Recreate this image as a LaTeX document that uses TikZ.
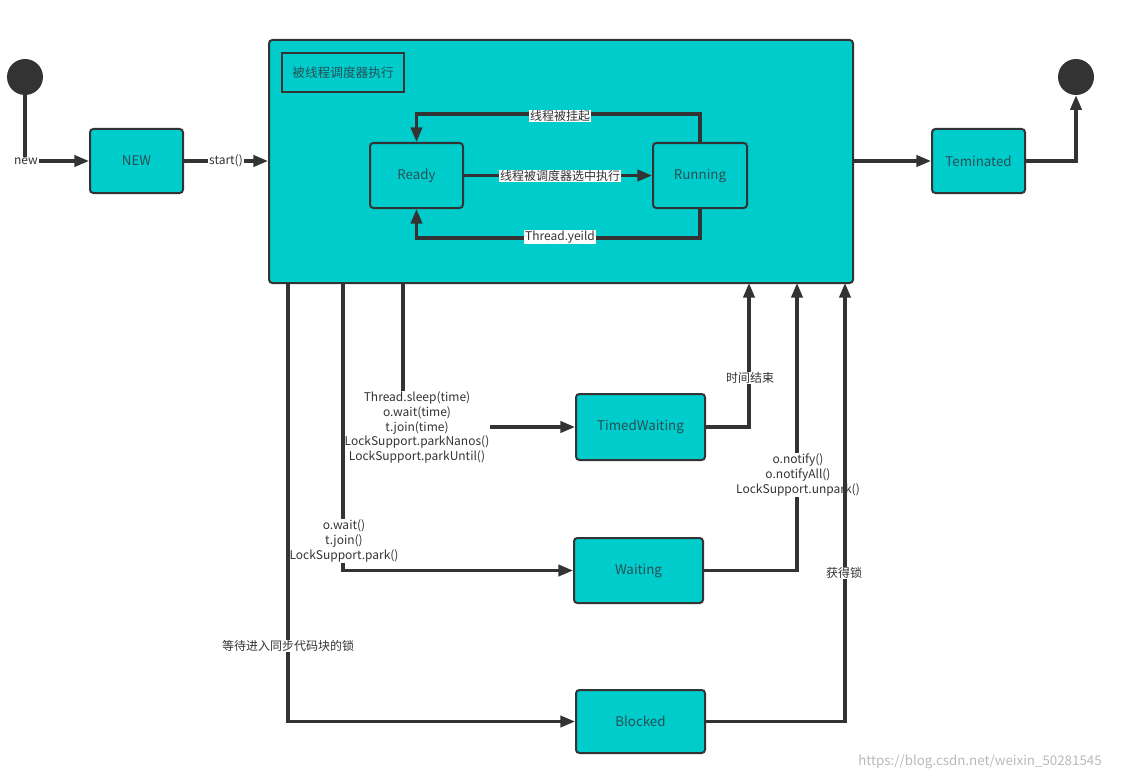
\documentclass[tikz,border=0pt]{standalone}
\usepackage{fontspec}
\setmainfont{Noto Sans CJK SC}
\usetikzlibrary{arrows.meta}
\definecolor{boxfill}{RGB}{0,204,204}
\definecolor{ink}{RGB}{51,51,51}
\definecolor{boxtext}{RGB}{40,80,85}
\begin{document}
\begin{tikzpicture}[x=0.75pt,y=-0.75pt,
  state/.style={draw=ink, line width=1.5pt, fill=boxfill, rounded corners=2.5pt, inner sep=0pt, text=boxtext, font=\fontsize{10}{12}\selectfont},
  arr/.style={draw=ink, line width=2.3pt, -{Triangle[length=11pt,width=8.5pt]}},
  lbl/.style={fill=white, text=ink, inner sep=0.6pt, font=\fontsize{9}{11}\selectfont, align=center},
  dot/.style={circle, fill=ink, minimum size=27pt, inner sep=0pt}]
\useasboundingbox (0,0) rectangle (1126,781);
% big container
\node[state, minimum width=438pt, minimum height=182.25pt] (big) at (561,161.5) {};
\node[draw=ink, line width=1.5pt, minimum width=91.5pt, minimum height=29.25pt, inner sep=0pt, text=boxtext, font=\fontsize{9.5}{11}\selectfont] (title) at (343,72.5) {被线程调度器执行};
% states
\node[dot] (start) at (25,77) {};
\node[dot] (stop) at (1076,77) {};
\node[state, minimum width=69.75pt, minimum height=48pt] (new) at (136.5,161) {NEW};
\node[state, minimum width=69.75pt, minimum height=48.75pt] (ready) at (416.5,175.5) {Ready};
\node[state, minimum width=70.5pt, minimum height=48.75pt] (running) at (700,175.5) {Running};
\node[state, minimum width=96.75pt, minimum height=49.5pt] (timed) at (640.5,427) {TimedWaiting};
\node[state, minimum width=96.75pt, minimum height=48.75pt] (waiting) at (638.5,570.5) {Waiting};
\node[state, minimum width=96.75pt, minimum height=47.25pt] (blocked) at (640.5,721.5) {Blocked};
\node[state, minimum width=69.75pt, minimum height=48pt] (term) at (978.5,161) {Teminated};
% free ends on the container
\coordinate (b1) at (288,283);
\coordinate (b2) at (343,283);
\coordinate (b3) at (403,283);
\coordinate (u1) at (749,283);
\coordinate (u2) at (797,283);
\coordinate (u3) at (845,283);
% connectors
\draw[arr] (start) |- (new.west);
\draw[arr] (new.east) -- (new.east -| big.west);
\draw[arr] (big.east |- term.west) -- (term.west);
\draw[arr] (term.east) -| (stop.south);
\draw[arr] (running.north) -- ++(0,-28) -| (ready.north);
\draw[arr] (ready.east) -- (running.west);
\draw[arr] (running.south) -- ++(0,29) -| (ready.south);
\draw[arr] (b3) |- (timed.west);
\draw[arr] (timed.east) -| (u1);
\draw[arr] (waiting.east) -| (u2);
% labels
\node[lbl] (lnew) at (26,161) {new};
\node[lbl] (lstart) at (226,161) {start()};
\node[lbl] (lsusp) at (560,116) {线程被挂起};
\node[lbl] (lsched) at (560,176) {线程被调度器选中执行};
\node[lbl] (lyield) at (560,237) {Thread.yeild};
\node[lbl] (lsleep) at (417,427.5) {Thread.sleep(time)\\o.wait(time)\\t.join(time)\\LockSupport.parkNanos()\\LockSupport.parkUntil()};
\draw[arr] (b2) |- (waiting.west);
\node[lbl] (lwait) at (344,541) {o.wait()\\t.join()\\LockSupport.park()};
\draw[arr] (b1) |- (blocked.west);
\node[lbl] (lblock) at (288,646) {等待进入同步代码块的锁};
\node[lbl] (ltime) at (750,378) {时间结束};
\node[lbl] (lnotify) at (798,475) {o.notify()\\o.notifyAll()\\LockSupport.unpark()};
\draw[arr] (blocked.east) -| (u3);
\node[lbl] (llock) at (844,573) {获得锁};
\node[text=gray!55, font=\fontsize{10}{12}\selectfont] (wm) at (980,762) {https://blog.csdn.net/weixin\_50281545};
\end{tikzpicture}
\end{document}
